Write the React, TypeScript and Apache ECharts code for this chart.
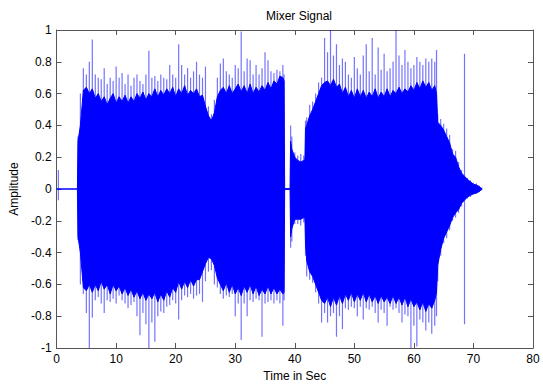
import React, { useEffect, useRef } from "react";
import * as echarts from "echarts";

// Time samples (s) of the signal envelope
const T = [
  3.5, 3.6, 4, 4.5, 5, 5.5, 6, 6.5, 7, 7.5,
  8, 8.5, 9, 9.5, 10, 10.5, 11, 11.5, 12, 12.5,
  13, 13.5, 14, 14.5, 15, 15.5, 16, 16.5, 17, 17.5,
  18, 18.5, 19, 19.5, 20, 20.5, 21, 21.5, 22, 22.5,
  23, 23.5, 24, 24.5, 25, 25.5, 26, 26.5, 27, 27.5,
  28, 28.5, 29, 29.5, 30, 30.5, 31, 31.5, 32, 32.5,
  33, 33.5, 34, 34.5, 35, 35.5, 36, 36.5, 37, 37.5,
  38, 38.2, 38.3, 39.2, 39.3, 39.5, 40, 40.5, 41, 41.5,
  41.7, 41.8, 42, 42.5, 43, 43.5, 44, 44.5, 45, 45.5,
  46, 46.5, 47, 47.5, 48, 48.5, 49, 49.5, 50, 50.5,
  51, 51.5, 52, 52.5, 53, 53.5, 54, 54.5, 55, 55.5,
  56, 56.5, 57, 57.5, 58, 58.5, 59, 59.5, 60, 60.5,
  61, 61.5, 62, 62.5, 63, 63.5, 63.8, 64, 64.5, 65,
  65.5, 66, 66.5, 67, 67.5, 68, 68.5, 69, 69.5, 70,
  70.5, 71, 71.4,
];

// Dense (solid) upper envelope
const BULK_UP = [
  0, 0.3, 0.4, 0.62, 0.64, 0.6, 0.63, 0.57, 0.6, 0.55,
  0.58, 0.53, 0.57, 0.6, 0.54, 0.58, 0.55, 0.59, 0.54, 0.58,
  0.55, 0.6, 0.57, 0.61, 0.56, 0.6, 0.58, 0.63, 0.58, 0.62,
  0.59, 0.63, 0.6, 0.64, 0.58, 0.63, 0.6, 0.65, 0.59, 0.62,
  0.6, 0.63, 0.58, 0.59, 0.52, 0.46, 0.43, 0.48, 0.58, 0.62,
  0.64, 0.6, 0.65, 0.6, 0.63, 0.66, 0.61, 0.65, 0.6, 0.66,
  0.6, 0.64, 0.61, 0.65, 0.62, 0.67, 0.63, 0.68, 0.66, 0.71,
  0.7, 0.68, 0, 0, 0.3, 0.25, 0.2, 0.18, 0.17, 0.18,
  0.18, 0.38, 0.4, 0.46, 0.5, 0.55, 0.6, 0.65, 0.67, 0.68,
  0.65, 0.69, 0.64, 0.66, 0.6, 0.64, 0.58, 0.62, 0.57, 0.63,
  0.58, 0.62, 0.57, 0.61, 0.58, 0.63, 0.57, 0.61, 0.58, 0.63,
  0.58, 0.62, 0.6, 0.64, 0.6, 0.63, 0.61, 0.65, 0.62, 0.67,
  0.63, 0.68, 0.64, 0.67, 0.62, 0.65, 0.6, 0.42, 0.4, 0.37,
  0.33, 0.29, 0.22, 0.2, 0.14, 0.1, 0.08, 0.06, 0.045, 0.03,
  0.025, 0.015, 0,
];

// Peak (spike) upper values
const PEAK_UP = [
  0, 0.33, 0.6, 0.76, 0.72, 0.8, 0.94, 0.72, 0.7, 0.69,
  0.76, 0.66, 0.7, 0.68, 0.77, 0.7, 0.73, 0.66, 0.72, 0.65,
  0.7, 0.72, 0.68, 0.66, 0.72, 0.87, 0.7, 0.71, 0.68, 0.72,
  0.7, 0.69, 0.78, 0.72, 0.7, 0.91, 0.78, 0.72, 0.76, 0.7,
  0.74, 0.8, 0.72, 0.7, 0.77, 0.52, 0.47, 0.56, 0.7, 0.79,
  0.82, 0.74, 0.72, 0.7, 0.78, 0.76, 0.99, 0.74, 0.82, 0.81,
  0.72, 0.78, 0.72, 0.76, 0.86, 0.81, 0.74, 0.73, 0.75, 0.74,
  0.78, 0.72, 0, 0, 0.4, 0.33, 0.23, 0.21, 0.22, 0.21,
  0.2, 0.43, 0.45, 0.53, 0.55, 0.6, 0.67, 0.7, 0.95, 0.86,
  1.0, 0.84, 0.91, 0.78, 0.82, 0.8, 0.72, 0.7, 0.83, 0.76,
  0.72, 0.84, 0.91, 0.74, 0.95, 0.72, 0.89, 0.75, 0.85, 0.74,
  0.76, 0.8, 1.0, 0.84, 0.78, 0.875, 0.8, 0.76, 0.78, 0.83,
  0.8, 0.78, 0.82, 0.8, 0.82, 0.8, 0.875, 0.47, 0.44, 0.41,
  0.38, 0.34, 0.25, 0.24, 0.17, 0.12, 0.85, 0.07, 0.055, 0.04,
  0.035, 0.02, 0.01,
];

// Dense (solid) lower envelope
const BULK_LOW = [
  0, -0.3, -0.4, -0.62, -0.64, -0.6, -0.65, -0.6, -0.64, -0.58,
  -0.63, -0.6, -0.66, -0.6, -0.64, -0.61, -0.66, -0.62, -0.67, -0.63,
  -0.68, -0.64, -0.69, -0.65, -0.7, -0.66, -0.69, -0.65, -0.71, -0.66,
  -0.7, -0.64, -0.68, -0.62, -0.65, -0.58, -0.63, -0.58, -0.62, -0.57,
  -0.61, -0.57, -0.57, -0.52, -0.47, -0.43, -0.44, -0.48, -0.56, -0.6,
  -0.64, -0.59, -0.65, -0.6, -0.66, -0.62, -0.67, -0.61, -0.65, -0.6,
  -0.66, -0.61, -0.67, -0.63, -0.66, -0.61, -0.66, -0.62, -0.66, -0.63,
  -0.66, -0.65, 0, 0, -0.3, -0.25, -0.19, -0.19, -0.19, -0.18,
  -0.18, -0.34, -0.45, -0.52, -0.55, -0.6, -0.65, -0.7, -0.72, -0.68,
  -0.74, -0.68, -0.73, -0.67, -0.72, -0.66, -0.7, -0.65, -0.71, -0.66,
  -0.7, -0.65, -0.71, -0.66, -0.71, -0.67, -0.72, -0.67, -0.71, -0.68,
  -0.72, -0.67, -0.72, -0.68, -0.73, -0.68, -0.74, -0.69, -0.74, -0.71,
  -0.76, -0.71, -0.77, -0.72, -0.75, -0.7, -0.65, -0.48, -0.38, -0.31,
  -0.27, -0.23, -0.18, -0.15, -0.13, -0.09, -0.07, -0.05, -0.04, -0.03,
  -0.025, -0.015, 0,
];

// Peak (spike) lower values
const PEAK_LOW = [
  0, -0.32, -0.6, -0.66, -0.78, -1.0, -0.81, -0.7, -0.68, -0.72,
  -0.78, -0.7, -0.71, -0.69, -0.72, -0.67, -0.7, -0.72, -0.75, -0.73,
  -0.71, -0.8, -0.92, -0.78, -0.85, -1.0, -0.84, -0.96, -0.8, -0.77,
  -0.78, -0.74, -0.73, -0.7, -0.72, -0.82, -0.7, -0.67, -0.68, -0.66,
  -0.69, -0.67, -0.66, -0.71, -0.58, -0.52, -0.51, -0.6, -0.62, -0.66,
  -0.69, -0.67, -0.68, -0.66, -0.8, -0.72, -0.95, -0.72, -0.8, -0.7,
  -0.71, -0.69, -0.7, -0.93, -0.72, -0.71, -0.7, -0.72, -0.7, -0.72,
  -0.86, -0.7, 0, 0, -0.37, -0.33, -0.22, -0.22, -0.23, -0.21,
  -0.2, -0.42, -0.55, -0.57, -0.59, -0.65, -0.72, -0.84, -0.78, -0.84,
  -0.8, -0.78, -0.93, -0.8, -0.88, -0.75, -0.76, -0.74, -0.75, -0.8,
  -0.74, -0.82, -0.75, -0.76, -0.74, -0.78, -0.84, -0.76, -0.78, -0.86,
  -0.74, -0.76, -0.75, -0.78, -0.84, -0.79, -0.8, -1.0, -0.86, -0.99,
  -0.82, -0.84, -0.89, -0.84, -0.91, -0.86, -0.8, -0.58, -0.42, -0.34,
  -0.31, -0.26, -0.2, -0.18, -0.15, -0.11, -0.85, -0.06, -0.05, -0.035,
  -0.03, -0.02, -0.01,
];

// Quiet-period baseline and the small blip near the start
const BASE_T = [0, 71.4];
const BLIP_T = [0.3];
const BLIP_UP = [0.12];
const BLIP_LOW = [-0.07];

const X_MIN = 0;
const X_MAX = 80;
const X_STEP = 10;
const Y_MIN = -1;
const Y_MAX = 1;
const Y_STEP = 0.2;

const BLUE = "#0000ff";
const FONT = "'Liberation Sans', Arial, sans-serif";

export default function App() {
  const ref = useRef<HTMLDivElement>(null);

  useEffect(() => {
    if (!ref.current) return;
    const chart = echarts.init(ref.current, undefined, { renderer: "svg" });

    const peaks = T.map((t, i) => [t, PEAK_LOW[i], PEAK_UP[i]]).concat(
      BLIP_T.map((t, i) => [t, BLIP_LOW[i], BLIP_UP[i]])
    );
    const up = T.map((t, i) => [t, BULK_UP[i]]);
    const low = T.map((t, i) => [t, BULK_LOW[i]]);
    const base = BASE_T.map((t) => [t, 0]);

    const axisLine = { show: true, onZero: false, lineStyle: { color: "#555", width: 1 } };
    const axisTick = { show: true, inside: true, length: 5, lineStyle: { color: "#555" } };
    const label = { color: "#000", fontSize: 12, fontFamily: FONT };

    chart.setOption({
      animation: false,
      backgroundColor: "#fff",
      title: {
        text: "Mixer Signal",
        left: 294,
        textAlign: "center",
        top: 5,
        textStyle: { fontSize: 12, fontWeight: "normal", color: "#000", fontFamily: FONT },
      },
      grid: { left: 55, right: 10, top: 30, bottom: 36, containLabel: false },
      xAxis: [
        {
          type: "value",
          min: X_MIN,
          max: X_MAX,
          interval: X_STEP,
          position: "bottom",
          axisLine,
          axisTick,
          splitLine: { show: false },
          axisLabel: { ...label, margin: 5 },
          name: "Time in Sec",
          nameLocation: "middle",
          nameGap: 22,
          nameTextStyle: { color: "#000", fontSize: 12, fontFamily: FONT },
        },
        {
          type: "value",
          min: X_MIN,
          max: X_MAX,
          interval: X_STEP,
          position: "top",
          axisLine,
          axisTick,
          splitLine: { show: false },
          axisLabel: { show: false },
        },
      ],
      yAxis: [
        {
          type: "value",
          min: Y_MIN,
          max: Y_MAX,
          interval: Y_STEP,
          position: "left",
          axisLine,
          axisTick,
          splitLine: { show: false },
          axisLabel: { ...label, margin: 5 },
          name: "Amplitude",
          nameLocation: "middle",
          nameGap: 34,
          nameTextStyle: { color: "#000", fontSize: 12, fontFamily: FONT },
        },
        {
          type: "value",
          min: Y_MIN,
          max: Y_MAX,
          interval: Y_STEP,
          position: "right",
          axisLine,
          axisTick,
          splitLine: { show: false },
          axisLabel: { show: false },
        },
      ],
      series: [
        {
          type: "line",
          data: base,
          symbol: "none",
          lineStyle: { color: BLUE, width: 1.5 },
          z: 1,
        },
        {
          type: "custom",
          data: peaks,
          encode: { x: 0, y: [1, 2] },
          z: 2,
          renderItem: (_params: any, api: any) => {
            const a = api.coord([api.value(0), api.value(2)]);
            const b = api.coord([api.value(0), api.value(1)]);
            return {
              type: "line",
              shape: { x1: a[0], y1: a[1], x2: b[0], y2: b[1] },
              style: { stroke: "rgba(0,0,255,0.55)", lineWidth: 1.2 },
            };
          },
        },
        {
          type: "line",
          data: up,
          symbol: "none",
          lineStyle: { color: BLUE, width: 1 },
          areaStyle: { color: BLUE, opacity: 1 },
          z: 3,
        },
        {
          type: "line",
          data: low,
          symbol: "none",
          lineStyle: { color: BLUE, width: 1 },
          areaStyle: { color: BLUE, opacity: 1 },
          z: 3,
        },
      ],
    });

    return () => chart.dispose();
  }, []);

  return (
    <div
      ref={ref}
      style={{ position: "fixed", left: 0, top: 0, width: 543, height: 387, background: "#fff" }}
    />
  );
}
